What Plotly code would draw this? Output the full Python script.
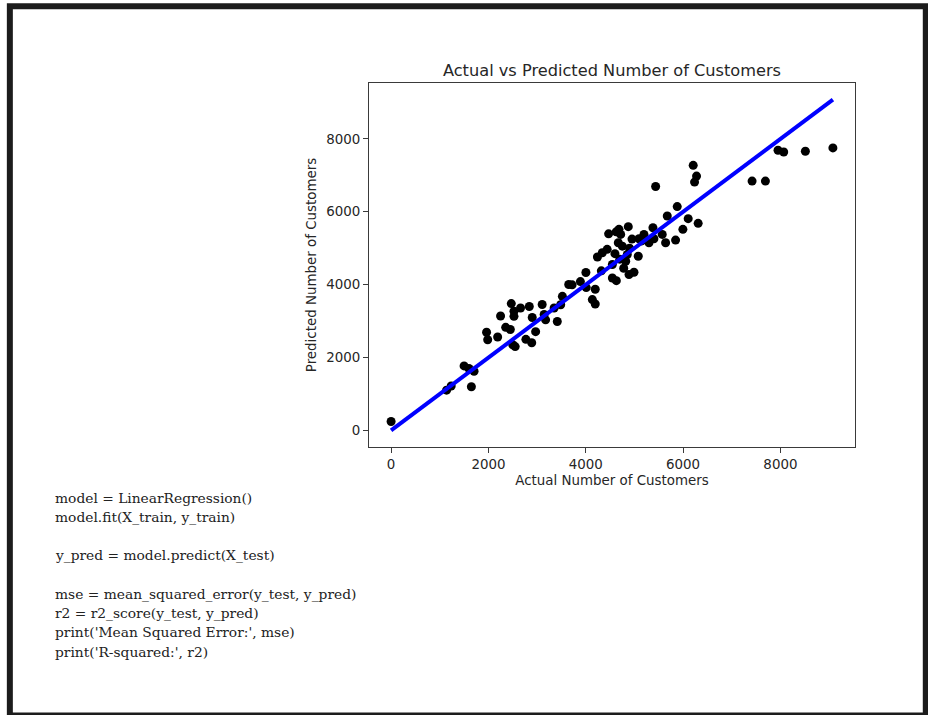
import plotly.graph_objects as go

# Actual vs predicted values
actual = [0, 1140, 1235, 1500, 1600, 1705, 1650,
          1962, 1985, 2190, 2250, 2470, 2355, 2450, 2525, 2525, 2500, 2550,
          2660, 2840, 2770, 2890, 2900, 2970, 3105, 3145, 3175, 3415, 3350,
          3485, 3520, 3650, 3720, 3890, 4010, 4003, 4135, 4195, 4195, 4240,
          4320, 4340, 4440, 4470, 4547, 4629, 4547, 4683, 4718, 4874, 4669,
          4752, 4821, 4854, 4889, 4991, 5079, 5094, 5196, 5299, 5381, 5401,
          5572, 5641, 5675, 5846, 5880, 5996, 6105, 6310, 5436, 6208, 6277,
          6236, 7418, 7692, 7951, 8068, 8513, 9079,
          4700, 4780, 4600, 4900, 4950, 5150, 4625]
predicted = [245, 1105, 1220, 1770, 1700, 1625, 1200,
             2695, 2490, 2565, 3140, 3480, 2830, 2770, 3270, 3130, 2350, 2300,
             3360, 3400, 2500, 2405, 3100, 2710, 3455, 3180, 3035, 2990, 3360,
             3450, 3680, 4005, 3995, 4085, 3920, 4335, 3590, 3470, 3875, 4760,
             4380, 4875, 4970, 5395, 4184, 4110, 4552, 5517, 5379, 5591, 5150,
             5057, 4643, 4828, 4276, 4340, 4781, 5260, 5379, 5150, 5563, 5260,
             5379, 5150, 5885, 5222, 6143, 5517, 5811, 5683, 6694, 7274, 6979,
             6814, 6841, 6841, 7687, 7641, 7660, 7752,
             4700, 4450, 4850, 5000, 5250, 5200, 5450]

title_text = "Actual vs Predicted Number of Customers"
x_label = "Actual Number of Customers"
y_label = "Predicted Number of Customers"
tick_vals = [0, 2000, 4000, 6000, 8000]

code_lines = [
    "model = LinearRegression()",
    "model.fit(X_train, y_train)",
    "",
    "y_pred = model.predict(X_test)",
    "",
    "mse = mean_squared_error(y_test, y_pred)",
    "r2 = r2_score(y_test, y_pred)",
    "print('Mean Squared Error:', mse)",
    "print('R-squared:', r2)",
]

# ideal line from min to max of actual values
line_x = [min(actual), max(actual)]
line_y = [min(actual), max(actual)]

lo = min(min(actual), min(predicted), line_y[0])
hi = max(max(actual), max(predicted), line_y[1])
pad = 0.05 * (hi - lo)
rng = [lo - pad, hi + pad]

W, H = 928, 715
L, R, T, B = 369, 855, 83, 447  # plot area in pixels
pw, ph = R - L, B - T


def px(x):
    return (x - L) / pw


def py(y):
    return (B - y) / ph


fig = go.Figure()
fig.add_trace(go.Scatter(x=actual, y=predicted, mode="markers",
                         marker=dict(color="black", size=9, line=dict(width=0)),
                         showlegend=False, hoverinfo="skip"))
fig.add_trace(go.Scatter(x=line_x, y=line_y, mode="lines",
                         line=dict(color="#0000ff", width=4),
                         showlegend=False, hoverinfo="skip"))

axis_common = dict(
    range=rng, tickvals=tick_vals, ticktext=[str(v) for v in tick_vals],
    showgrid=False, zeroline=False, showline=True, mirror=True,
    linecolor="#3a3a3a", linewidth=1, ticks="outside", ticklen=5,
    tickwidth=1, tickcolor="#3a3a3a",
    tickfont=dict(family="DejaVu Sans", size=13.4, color="#262626"),
)
fig.update_xaxes(**axis_common,
                 title=dict(text=x_label, standoff=4,
                            font=dict(family="DejaVu Sans", size=13.4, color="#262626")))
fig.update_yaxes(**axis_common,
                 title=dict(text=y_label, standoff=6,
                            font=dict(family="DejaVu Sans", size=13.4, color="#262626")))

annotations = []
row_y = 497.7
for line in code_lines:
    if line:
        annotations.append(dict(
            text=line, xref="paper", yref="paper", x=px(53), y=py(row_y),
            xanchor="left", yanchor="middle", showarrow=False,
            font=dict(family="DejaVu Serif", size=13.8, color="#222222")))
    row_y += 19.25

shapes = [dict(type="rect", xref="paper", yref="paper",
               x0=px(9.85), x1=px(925.8), y0=py(715.5), y1=py(6.15),
               line=dict(color="#1c1c1c", width=6), fillcolor="rgba(0,0,0,0)",
               layer="above")]

fig.update_layout(
    width=W, height=H,
    margin=dict(l=L, r=W - R, t=T, b=H - B, autoexpand=False),
    paper_bgcolor="white", plot_bgcolor="white",
    title=dict(text=title_text, x=0.5, xref="paper", xanchor="center",
               y=1 - 70 / H, yref="container", yanchor="middle",
               font=dict(family="DejaVu Sans", size=16.2, color="#262626")),
    annotations=annotations, shapes=shapes,
)

fig.write_html("out.html",
               config={"displayModeBar": False},
               post_script="document.body.style.margin='0';"
                           "document.body.style.overflow='hidden';")
